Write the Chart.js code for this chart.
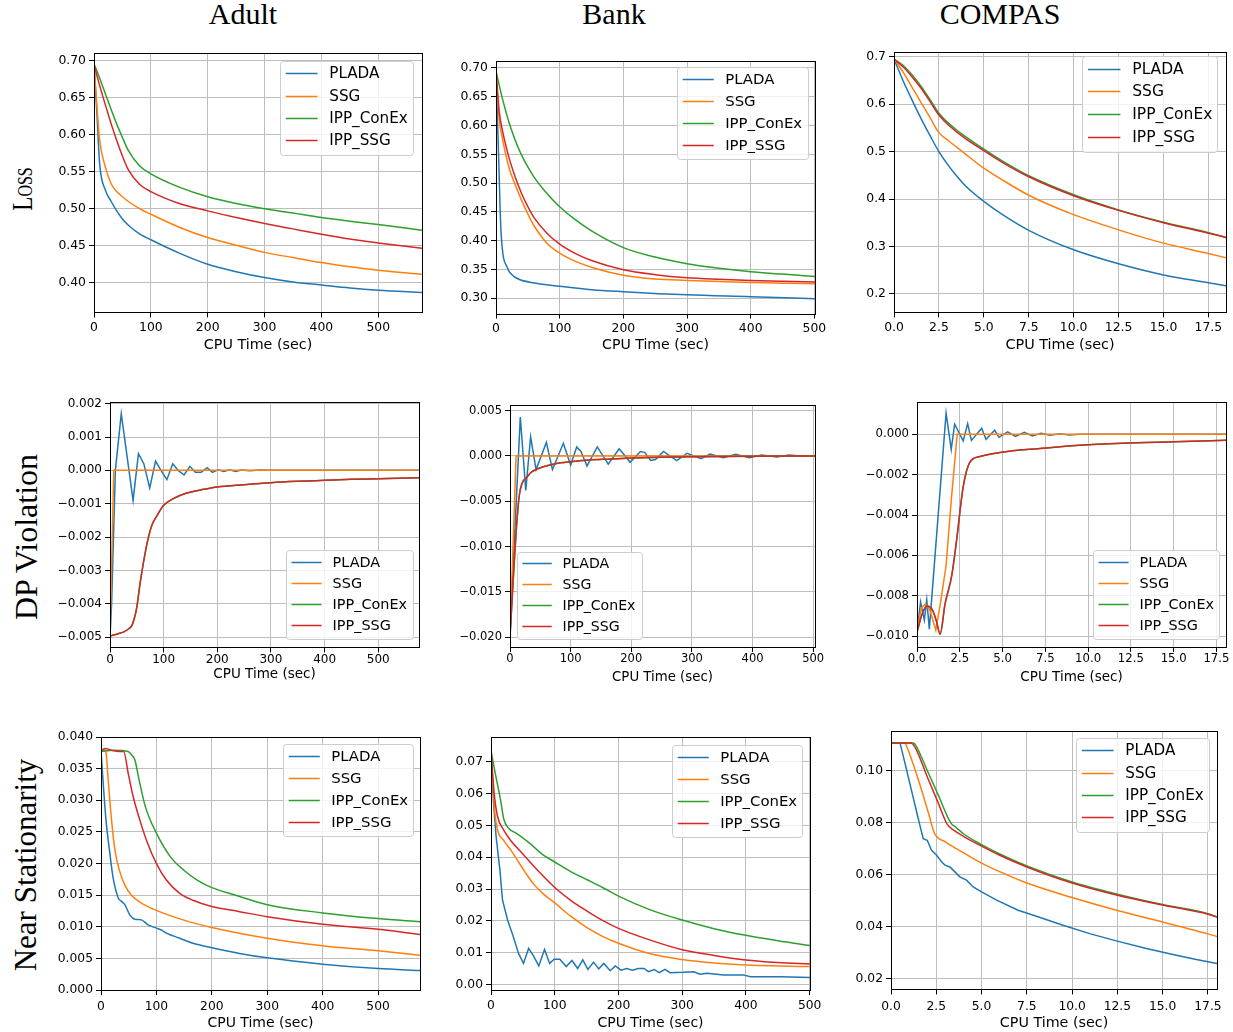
<!DOCTYPE html>
<html>
<head>
<meta charset="utf-8">
<script src="https://cdn.jsdelivr.net/npm/chart.js@4.4.1/dist/chart.umd.min.js"></script>
<style>
  body { margin: 0; background: #fff; width: 1233px; height: 1032px; position: relative; overflow: hidden; }
  canvas { position: absolute; }
  .ttl { position: absolute; top: -1px; transform: translateX(-50%); font: 30px 'Liberation Serif', serif; line-height: 1; white-space: nowrap; }
  .rl { position: absolute; font-family: 'Liberation Serif', serif; line-height: 30px; white-space: nowrap; transform: translate(-50%, -50%) rotate(-90deg); }
</style>
</head>
<body>
<div class="ttl" style="left:243px">Adult</div>
<div class="ttl" style="left:614px">Bank</div>
<div class="ttl" style="left:1000px">COMPAS</div>
<div class="rl" style="left:22px; top:189px; font-size:29px; font-variant:small-caps; transform: translate(-50%, -50%) rotate(-90deg) scale(0.8, 1)">Loss</div>
<div class="rl" style="left:26px; top:537px; font-size:32px">DP Violation</div>
<div class="rl" style="left:26px; top:865px; font-size:31px">Near Stationarity</div>

<script>
const seriesNames = ['PLADA', 'SSG', 'IPP_ConEx', 'IPP_SSG'];
const seriesColors = ['#1f77b4', '#ff7f0e', '#2ca02c', '#d62728'];

// tick values
const adultTimeTicks = [0, 100, 200, 300, 400, 500];
const bankTimeTicks = [0, 100, 200, 300, 400, 500];
const compasTimeTicks = [0, 2.5, 5, 7.5, 10, 12.5, 15, 17.5];
const adultLossTicks = [0.40, 0.45, 0.50, 0.55, 0.60, 0.65, 0.70];
const bankLossTicks = [0.30, 0.35, 0.40, 0.45, 0.50, 0.55, 0.60, 0.65, 0.70];
const compasLossTicks = [0.2, 0.3, 0.4, 0.5, 0.6, 0.7];
const adultDpTicks = [-0.005, -0.004, -0.003, -0.002, -0.001, 0, 0.001, 0.002];
const bankDpTicks = [-0.020, -0.015, -0.010, -0.005, 0, 0.005];
const compasDpTicks = [-0.010, -0.008, -0.006, -0.004, -0.002, 0];
const adultNsTicks = [0, 0.005, 0.010, 0.015, 0.020, 0.025, 0.030, 0.035, 0.040];
const bankNsTicks = [0, 0.01, 0.02, 0.03, 0.04, 0.05, 0.06, 0.07];
const compasNsTicks = [0.02, 0.04, 0.06, 0.08, 0.10];

// Adult - loss
const adultLossTime = [0, 5, 10, 20, 30, 40, 50, 60, 80, 100, 150, 200, 250, 300, 350, 400, 450, 500, 577];
const adultLossPlada = [0.695, 0.63, 0.56, 0.525, 0.51, 0.497, 0.486, 0.478, 0.466, 0.458, 0.44, 0.425, 0.415, 0.407, 0.401, 0.397, 0.393, 0.390, 0.387];
const adultLossSsg = [0.695, 0.64, 0.592, 0.556, 0.534, 0.523, 0.516, 0.510, 0.50, 0.4925, 0.475, 0.461, 0.4507, 0.441, 0.434, 0.4273, 0.4215, 0.417, 0.4116];
const adultLossConex = [0.695, 0.686, 0.676, 0.655, 0.634, 0.614, 0.596, 0.579, 0.558, 0.547, 0.529, 0.516, 0.507, 0.5, 0.494, 0.488, 0.483, 0.4785, 0.471];
const adultLossIppSsg = [0.695, 0.680, 0.666, 0.640, 0.615, 0.592, 0.571, 0.553, 0.533, 0.523, 0.507, 0.497, 0.488, 0.480, 0.4727, 0.4655, 0.459, 0.4538, 0.4466];

// Bank - loss
const bankLossTime = [0, 5, 10, 20, 30, 40, 50, 60, 80, 100, 125, 150, 200, 250, 300, 350, 400, 450, 501];
const bankLossPladaTime = [0, 4, 8, 18, 25, 35, 60, 100, 150, 200, 300, 400, 501];
const bankLossPlada = [0.695, 0.55, 0.413, 0.3525, 0.341, 0.3334, 0.3265, 0.321, 0.315, 0.3115, 0.306, 0.3028, 0.2993];
const bankLossSsg = [0.695, 0.612, 0.578, 0.5285, 0.4975, 0.4705, 0.4465, 0.4255, 0.3957, 0.3784, 0.364, 0.354, 0.340, 0.3334, 0.331, 0.329, 0.3276, 0.3263, 0.3253];
const bankLossConex = [0.695, 0.670, 0.647, 0.607, 0.575, 0.549, 0.528, 0.510, 0.482, 0.459, 0.436, 0.417, 0.388, 0.3715, 0.36, 0.352, 0.346, 0.342, 0.338];
const bankLossIppSsg = [0.695, 0.625, 0.592, 0.546, 0.511, 0.4823, 0.459, 0.4395, 0.413, 0.394, 0.3775, 0.3655, 0.3495, 0.341, 0.3357, 0.333, 0.331, 0.3295, 0.3282];

// COMPAS - loss
const compasLossTime = [0, 0.5, 1, 1.5, 2, 2.5, 3, 3.5, 4, 5, 6, 7.5, 10, 12.5, 15, 17.5, 18.48];
const compasLossPlada = [0.695, 0.650, 0.609, 0.570, 0.534, 0.50, 0.472, 0.448, 0.427, 0.395, 0.368, 0.334, 0.293, 0.2635, 0.240, 0.2233, 0.217];
const compasLossSsg = [0.695, 0.668, 0.636, 0.604, 0.572, 0.540, 0.524, 0.509, 0.494, 0.465, 0.441, 0.408, 0.367, 0.335, 0.307, 0.285, 0.276];
const compasLossConex = [0.695, 0.682, 0.662, 0.638, 0.61, 0.581, 0.561, 0.545, 0.531, 0.505, 0.481, 0.449, 0.409, 0.377, 0.351, 0.329, 0.3185];
const compasLossIppSsg = [0.695, 0.679, 0.658, 0.634, 0.606, 0.577, 0.557, 0.541, 0.527, 0.502, 0.478, 0.447, 0.407, 0.376, 0.35, 0.328, 0.3195];

// Adult - DP violation
const adultDpPladaTime = [0, 3, 10, 21, 43, 53, 63, 74, 85, 95, 106, 117, 127, 138, 149, 159, 170, 181, 191, 202, 212, 223, 234, 245, 260, 280, 300, 576];
const adultDpPlada = [-0.005, -0.004, 0.0, 0.0017, -0.0009, 0.0005, 0.0002, -0.00053, 0.00028, 0.0, -0.00028, 0.0002, 0.0, -0.00014, 0.00012, -0.00006, -0.00006, 0.00008, -0.00006, 0.00002, -0.00003, 0.00002, -0.00003, 0.00001, -0.00001, 0.00001, 0, 0];
const adultDpSsgTime = [0, 7, 576];
const adultDpSsg = [-0.005, 0, 0];
const adultDpIppTime = [0, 15, 25, 35, 41, 46, 50, 56, 62, 69, 78, 88, 100, 118, 143, 175, 200, 250, 300, 350, 400, 450, 500, 576];
const adultDpConex = [-0.00497, -0.0049, -0.00485, -0.00475, -0.00465, -0.0044, -0.0041, -0.0034, -0.0028, -0.0022, -0.00165, -0.00135, -0.00105, -0.00085, -0.00068, -0.00057, -0.0005, -0.00043, -0.00037, -0.00033, -0.0003, -0.00027, -0.00025, -0.00022];
const adultDpIppSsg = [-0.00497, -0.0049, -0.00485, -0.00475, -0.00465, -0.0044, -0.0041, -0.0034, -0.0028, -0.0022, -0.00165, -0.00135, -0.00105, -0.00085, -0.00068, -0.00057, -0.0005, -0.00043, -0.00037, -0.00033, -0.0003, -0.00027, -0.00025, -0.00022];

// Bank - DP violation
const bankDpPladaTime = [0, 17, 26, 34, 43, 60, 70, 88, 100, 110, 117, 127, 144, 162, 180, 190, 198, 215, 222, 232, 240, 253, 275, 292, 315, 330, 352, 372, 395, 415, 440, 460, 480, 503];
const bankDpPlada = [-0.0195, 0.0043, -0.0038, 0.0021, -0.0015, 0.0015, -0.0015, 0.0014, -0.001, 0.001, 0.0005, -0.0011, 0.001, -0.0009, 0.0008, 0.0, -0.0007, 0.0005, 0.0004, -0.0005, -0.0004, 0.0005, -0.0005, 0.0003, -0.0003, 0.0002, -0.0002, 0.0002, -0.0002, 0.0001, -0.0001, 0.0001, 0, 0];
const bankDpSsgTime = [0, 10, 503];
const bankDpSsg = [-0.020, 0, 0];
const bankDpIppTime = [0, 5, 10, 15, 20, 27, 35, 50, 75, 100, 130, 165, 200, 250, 300, 400, 503];
const bankDpConex = [-0.020, -0.014, -0.0085, -0.0045, -0.003, -0.0024, -0.0018, -0.0013, -0.00085, -0.00063, -0.00045, -0.00034, -0.00023, -0.00013, -0.00008, -0.00003, -0.00001];
const bankDpIppSsg = [-0.020, -0.014, -0.0085, -0.0045, -0.003, -0.0024, -0.0018, -0.0013, -0.00085, -0.00063, -0.00045, -0.00034, -0.00023, -0.00013, -0.00008, -0.00003, -0.00001];

// COMPAS - DP violation
const compasDpPladaTime = [0, 0.21, 0.43, 0.57, 0.72, 1.7, 2.0, 2.2, 2.7, 2.96, 3.18, 3.78, 4.03, 4.54, 4.79, 5.3, 5.75, 6.27, 6.74, 7.25, 7.77, 8.36, 8.9, 9.5, 18.06];
const compasDpPlada = [-0.0098, -0.0083, -0.0092, -0.0082, -0.00965, 0.00105, -0.00075, 0.0005, -0.00033, 0.00053, -0.0003, 0.0003, -0.00025, 0.0002, -0.00015, 0.00012, -0.0001, 0.0001, -0.00008, 0.00005, -0.00005, 0.00003, -0.00003, 0, 0];
const compasDpSsgTime = [0, 0.25, 0.5, 0.75, 1.1, 1.4, 1.7, 2.0, 2.35, 18.06];
const compasDpSsg = [-0.0098, -0.0086, -0.0084, -0.0087, -0.0097, -0.0082, -0.0065, -0.0033, 0, 0];
const compasDpIppTime = [0, 0.3, 0.57, 0.9, 1.15, 1.35, 1.64, 2.03, 2.32, 2.7, 3.1, 3.68, 4.85, 7.19, 9.5, 12, 15, 18.06];
const compasDpConex = [-0.0098, -0.0089, -0.0085, -0.0087, -0.0093, -0.0099, -0.0084, -0.0070, -0.0052, -0.0026, -0.00137, -0.0011, -0.0009, -0.0007, -0.00054, -0.00044, -0.00037, -0.0003];
const compasDpIppSsg = [-0.0098, -0.0089, -0.0085, -0.0087, -0.0093, -0.0099, -0.0084, -0.0070, -0.0052, -0.0026, -0.00137, -0.0011, -0.0009, -0.0007, -0.00054, -0.00044, -0.00037, -0.0003];

// Adult - near stationarity
const adultNsPladaTime = [0, 9, 16, 21, 25, 32, 36, 43, 52, 61, 73, 85, 100, 109, 118, 142, 166, 200, 250, 300, 400, 500, 576];
const adultNsPlada = [0.0377, 0.0269, 0.0216, 0.0182, 0.0164, 0.0144, 0.0141, 0.0135, 0.0119, 0.0112, 0.0111, 0.0103, 0.0098, 0.0095, 0.009, 0.0082, 0.0074, 0.0067, 0.0058, 0.0051, 0.0041, 0.0034, 0.0031];
const adultNsSsgTime = [0, 5, 9, 13, 19, 25, 33, 43, 55, 70, 100, 148, 200, 300, 400, 500, 576];
const adultNsSsg = [0.0378, 0.0380, 0.0375, 0.0332, 0.0269, 0.0222, 0.019, 0.0166, 0.0150, 0.0139, 0.0126, 0.0111, 0.0099, 0.0082, 0.007, 0.0062, 0.0055];
const adultNsConexTime = [0, 22, 49, 55, 61, 70, 80, 100, 125, 150, 175, 200, 239, 300, 400, 500, 576];
const adultNsConex = [0.0377, 0.0379, 0.0377, 0.0372, 0.0364, 0.0327, 0.029, 0.0248, 0.0211, 0.0189, 0.0173, 0.0162, 0.0151, 0.0135, 0.0122, 0.0113, 0.0108];
const adultNsIppSsgTime = [0, 7, 19, 34, 41, 49, 58, 70, 82, 100, 118, 142, 166, 200, 250, 300, 400, 500, 576];
const adultNsIppSsg = [0.0378, 0.0382, 0.0379, 0.0377, 0.0377, 0.0343, 0.0306, 0.0269, 0.0237, 0.020, 0.0174, 0.0153, 0.0142, 0.0132, 0.0124, 0.0116, 0.0104, 0.0096, 0.0088];

// Bank - near stationarity
const bankNsPladaTime = [0, 4, 8, 14, 18, 26, 35, 43, 51, 59, 66, 75, 84, 92, 99, 108, 118, 127, 136, 144, 152, 161, 169, 177, 187, 195, 204, 213, 222, 231, 240, 247, 256, 264, 273, 281, 302, 318, 328, 339, 354, 365, 396, 407, 454, 500.5];
const bankNsPlada = [0.0731, 0.057, 0.0465, 0.036, 0.0266, 0.0203, 0.0151, 0.0099, 0.0067, 0.0114, 0.0093, 0.0059, 0.0111, 0.0067, 0.008, 0.008, 0.0057, 0.0076, 0.0051, 0.0078, 0.0048, 0.0071, 0.005, 0.0067, 0.0044, 0.0059, 0.0046, 0.0051, 0.0046, 0.0051, 0.0051, 0.0041, 0.0048, 0.0038, 0.0048, 0.0038, 0.0039, 0.0041, 0.0033, 0.0036, 0.0033, 0.0031, 0.0031, 0.0025, 0.0025, 0.0023];
const bankNsSsgTime = [0, 6, 11, 19, 32, 40, 53, 66, 82, 100, 125, 150, 175, 200, 250, 300, 350, 400, 450, 500.5];
const bankNsSsg = [0.0731, 0.054, 0.048, 0.0455, 0.042, 0.0395, 0.0355, 0.0318, 0.0285, 0.0257, 0.0215, 0.018, 0.0152, 0.013, 0.0097, 0.0079, 0.0068, 0.0062, 0.0059, 0.0057];
const bankNsConexTime = [0, 5, 10, 15, 20, 28, 40, 60, 80, 100, 125, 150, 175, 200, 250, 300, 350, 400, 450, 500.5];
const bankNsConex = [0.0735, 0.068, 0.063, 0.058, 0.052, 0.049, 0.0475, 0.0445, 0.041, 0.0385, 0.0355, 0.033, 0.0305, 0.0278, 0.0235, 0.0203, 0.0176, 0.0155, 0.0138, 0.0123];
const bankNsIppSsgTime = [0, 5, 10, 20, 30, 50, 75, 100, 125, 150, 175, 200, 250, 300, 350, 400, 450, 500.5];
const bankNsIppSsg = [0.0735, 0.06, 0.053, 0.0485, 0.0455, 0.041, 0.0355, 0.0305, 0.0265, 0.0232, 0.0202, 0.0177, 0.014, 0.011, 0.0092, 0.0078, 0.007, 0.0065];

// COMPAS - near stationarity
const compasNsPladaTime = [0, 0.5, 0.86, 1.23, 1.45, 1.64, 1.78, 2.0, 2.24, 2.52, 2.8, 2.98, 3.25, 3.53, 3.8, 4.17, 4.54, 5.0, 5.83, 7.02, 8.03, 9.5, 10.97, 12.44, 14.1, 15.75, 16.86, 18.0];
const compasNsPlada = [0.1108, 0.1108, 0.1004, 0.0896, 0.0832, 0.0778, 0.0739, 0.0733, 0.0694, 0.0675, 0.0649, 0.0637, 0.063, 0.0611, 0.0592, 0.0579, 0.0553, 0.0534, 0.0502, 0.0463, 0.044, 0.0405, 0.0373, 0.0345, 0.0316, 0.029, 0.0273, 0.0258];
const compasNsSsgTime = [0, 0.75, 0.95, 1.42, 1.78, 2.1, 2.4, 3, 4, 5, 6, 7.5, 10, 12.5, 15, 17.5, 18];
const compasNsSsg = [0.1108, 0.1108, 0.108, 0.0985, 0.0905, 0.083, 0.076, 0.0727, 0.0685, 0.0645, 0.0612, 0.0568, 0.0512, 0.0462, 0.0418, 0.0372, 0.0362];
const compasNsConexTime = [0, 1.25, 1.4, 2.0, 2.6, 3.3, 3.6, 4, 5, 6, 7.5, 10, 12.5, 15, 17.5, 18];
const compasNsConex = [0.1108, 0.1108, 0.1095, 0.1002, 0.0909, 0.080, 0.0782, 0.0758, 0.0716, 0.068, 0.0634, 0.0572, 0.0525, 0.0485, 0.045, 0.0437];
const compasNsIppSsgTime = [0, 1.1, 1.3, 2.0, 2.6, 3.1, 3.5, 4, 5, 6, 7.5, 10, 12.5, 15, 17.5, 18];
const compasNsIppSsg = [0.1108, 0.1108, 0.1095, 0.0978, 0.0878, 0.0795, 0.077, 0.0748, 0.071, 0.0675, 0.063, 0.0568, 0.0521, 0.0483, 0.0448, 0.0437];

// series: [times, values, smooth]
const panels = [
  { L: 94, T: 53, W: 328, H: 259, xr: [0, 577], yr: [0.360, 0.710], xt: adultTimeTicks, yt: adultLossTicks, xd: 0, yd: 2,
    tickFont: 12.4, titleFont: 14.3, tickPad: 3, titleGap: 33, legend: [280, 61, 133, 94],
    series: [[adultLossTime, adultLossPlada, true], [adultLossTime, adultLossSsg, true], [adultLossTime, adultLossConex, true], [adultLossTime, adultLossIppSsg, true]] },
  { L: 496, T: 61, W: 319, H: 253, xr: [0, 501], yr: [0.2735, 0.712], xt: bankTimeTicks, yt: bankLossTicks, xd: 0, yd: 2,
    tickFont: 12.4, titleFont: 14.1, tickPad: 3, titleGap: 32, legend: [677, 67, 131, 92],
    series: [[bankLossPladaTime, bankLossPlada, true], [bankLossTime, bankLossSsg, true], [bankLossTime, bankLossConex, true], [bankLossTime, bankLossIppSsg, true]] },
  { L: 894, T: 52, W: 332, H: 260, xr: [0, 18.48], yr: [0.161, 0.710], xt: compasTimeTicks, yt: compasLossTicks, xd: 1, yd: 1,
    tickFont: 12.4, titleFont: 14.4, tickPad: 3, titleGap: 33, legend: [1082, 56, 135, 96],
    series: [[compasLossTime, compasLossPlada, true], [compasLossTime, compasLossSsg, true], [compasLossTime, compasLossConex, true], [compasLossTime, compasLossIppSsg, true]] },
  { L: 110, T: 402, W: 309, H: 245, xr: [0, 576], yr: [-0.00531, 0.00205], xt: adultTimeTicks, yt: adultDpTicks, xd: 0, yd: 3,
    tickFont: 12.0, titleFont: 13.5, tickPad: 0.5, titleGap: 27.5, legend: [286, 550, 127, 89],
    series: [[adultDpPladaTime, adultDpPlada, false], [adultDpSsgTime, adultDpSsg, false], [adultDpIppTime, adultDpConex, true], [adultDpIppTime, adultDpIppSsg, true]] },
  { L: 510, T: 405, W: 305, H: 242, xr: [0, 503], yr: [-0.0211, 0.00563], xt: bankTimeTicks, yt: bankDpTicks, xd: 0, yd: 3,
    tickFont: 11.5, titleFont: 13.3, tickPad: 0, titleGap: 31, legend: [517, 552, 125, 87],
    series: [[bankDpPladaTime, bankDpPlada, false], [bankDpSsgTime, bankDpSsg, false], [bankDpIppTime, bankDpConex, true], [bankDpIppTime, bankDpIppSsg, true]] },
  { L: 917, T: 402, W: 309, H: 245, xr: [0, 18.06], yr: [-0.01053, 0.0016], xt: compasTimeTicks, yt: compasDpTicks, xd: 1, yd: 3,
    tickFont: 11.7, titleFont: 13.5, tickPad: 0, titleGap: 31, legend: [1093, 550, 126, 89],
    series: [[compasDpPladaTime, compasDpPlada, false], [compasDpSsgTime, compasDpSsg, false], [compasDpIppTime, compasDpConex, true], [compasDpIppTime, compasDpIppSsg, true]] },
  { L: 101, T: 737, W: 319, H: 253, xr: [0, 575.7], yr: [0, 0.040], xt: adultTimeTicks, yt: adultNsTicks, xd: 0, yd: 3,
    tickFont: 12.3, titleFont: 14.0, tickPad: 4, titleGap: 33.5, legend: [283, 744, 130, 92],
    series: [[adultNsPladaTime, adultNsPlada, true], [adultNsSsgTime, adultNsSsg, true], [adultNsConexTime, adultNsConex, true], [adultNsIppSsgTime, adultNsIppSsg, true]] },
  { L: 491, T: 737, W: 319, H: 253, xr: [0, 500.5], yr: [-0.00167, 0.0777], xt: bankTimeTicks, yt: bankNsTicks, xd: 0, yd: 2,
    tickFont: 12.3, titleFont: 14.0, tickPad: 3, titleGap: 33.5, legend: [672, 745, 130, 92],
    series: [[bankNsPladaTime, bankNsPlada, false], [bankNsSsgTime, bankNsSsg, true], [bankNsConexTime, bankNsConex, true], [bankNsIppSsgTime, bankNsIppSsg, true]] },
  { L: 891, T: 731, W: 326, H: 258, xr: [0, 18.0], yr: [0.0158, 0.1154], xt: compasTimeTicks, yt: compasNsTicks, xd: 1, yd: 2,
    tickFont: 12.3, titleFont: 14.3, tickPad: 5, titleGap: 34, legend: [1076, 738, 133, 94],
    series: [[compasNsPladaTime, compasNsPlada, false], [compasNsSsgTime, compasNsSsg, true], [compasNsConexTime, compasNsConex, true], [compasNsIppSsgTime, compasNsIppSsg, true]] }
];

const YW = 70, PT = 12, PR = 20;

function fmt(v, d) {
  const s = Math.abs(v).toFixed(d);
  return v < -1e-12 ? '\u2212' + s : s;
}

const frame = {
  id: 'frame',
  afterDatasetsDraw(chart) {
    const { ctx, chartArea: a } = chart;
    ctx.save();
    ctx.strokeStyle = '#000';
    ctx.lineWidth = 1;
    ctx.strokeRect(Math.floor(a.left) + 0.5, Math.floor(a.top) + 0.5, Math.round(a.right - a.left), Math.round(a.bottom - a.top));
    ctx.restore();
  }
};

const boxLegend = {
  id: 'boxLegend',
  afterDraw(chart, args, o) {
    const ctx = chart.ctx;
    const x = o.box[0] - o.ox, y = o.box[1] - o.oy, w = o.box[2], h = o.box[3];
    const row = h / 4.2;
    ctx.save();
    ctx.beginPath();
    ctx.roundRect(x + 0.5, y + 0.5, w, h, 3);
    ctx.fillStyle = 'rgba(255,255,255,0.8)';
    ctx.fill();
    ctx.strokeStyle = '#cccccc';
    ctx.lineWidth = 1;
    ctx.stroke();
    ctx.font = (row * 0.68).toFixed(1) + 'px "DejaVu Sans"';
    ctx.textBaseline = 'middle';
    chart.data.datasets.forEach((d, i) => {
      const cy = Math.round(y + row * (0.55 + i)) + 0.5;
      ctx.strokeStyle = d.borderColor;
      ctx.lineWidth = 1.5;
      ctx.beginPath();
      ctx.moveTo(x + 0.26 * row, cy);
      ctx.lineTo(x + 1.68 * row, cy);
      ctx.stroke();
      ctx.fillStyle = '#000';
      ctx.fillText(d.label, x + 2.2 * row, cy + 0.5);
    });
    ctx.restore();
  }
};

Chart.defaults.font.family = '"DejaVu Sans", sans-serif';
Chart.defaults.color = '#000';

panels.forEach(p => {
  const xh = p.titleGap + p.titleFont * 0.6;
  const cv = document.createElement('canvas');
  const cw = p.W + YW + PR, ch = Math.round(PT + p.H + xh);
  const ox = p.L - YW, oy = p.T - PT;
  cv.width = cw; cv.height = ch;
  cv.style.width = cw + 'px'; cv.style.height = ch + 'px';
  cv.style.left = ox + 'px'; cv.style.top = oy + 'px';
  document.body.appendChild(cv);

  const datasets = p.series.map((s, i) => ({
    label: seriesNames[i],
    data: s[0].map((t, k) => ({ x: t, y: s[1][k] })),
    borderColor: seriesColors[i],
    borderWidth: 1.5,
    pointRadius: 0,
    fill: false,
    cubicInterpolationMode: s[2] ? 'monotone' : 'default',
    tension: 0,
    order: 3 - i
  }));

  const grid = { color: '#bdbdbd', lineWidth: 1, tickColor: '#000', tickLength: 5, tickWidth: 1 };

  new Chart(cv, {
    type: 'line',
    data: { datasets },
    plugins: [frame, boxLegend],
    options: {
      responsive: false,
      animation: false,
      events: [],
      layout: { padding: { left: 0, right: PR, top: PT, bottom: 0 } },
      plugins: {
        legend: { display: false },
        tooltip: { enabled: false },
        boxLegend: { box: p.legend, ox, oy }
      },
      scales: {
        x: {
          type: 'linear', min: p.xr[0], max: p.xr[1],
          grid, border: { display: false },
          ticks: { autoSkip: false, maxRotation: 0, padding: p.tickPad, font: { size: p.tickFont }, color: '#000',
                   callback: v => fmt(v, p.xd) },
          afterBuildTicks: s => { s.ticks = p.xt.map(v => ({ value: v })); },
          afterFit: s => { s.height = xh; },
          title: { display: true, text: 'CPU Time (sec)', font: { size: p.titleFont }, color: '#000', padding: 0 }
        },
        y: {
          type: 'linear', min: p.yr[0], max: p.yr[1],
          grid, border: { display: false },
          ticks: { autoSkip: false, padding: 3, font: { size: p.tickFont }, color: '#000',
                   callback: v => fmt(v, p.yd) },
          afterBuildTicks: s => { s.ticks = p.yt.map(v => ({ value: v })); },
          afterFit: s => { s.width = YW; }
        }
      }
    }
  });
});
</script>
</body>
</html>
